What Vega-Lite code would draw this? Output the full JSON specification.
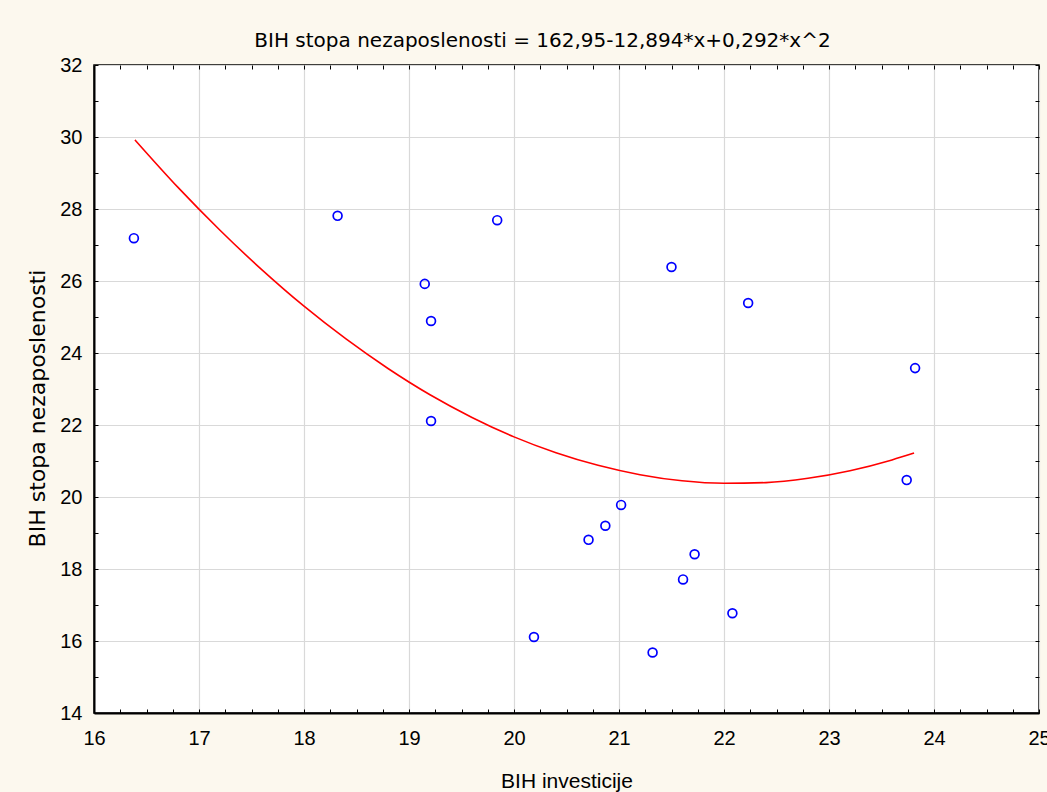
{
  "$schema": "https://vega.github.io/schema/vega-lite/v6.json",
  "width": 945,
  "height": 648,
  "autosize": {"type": "none"},
  "padding": {"left": 94, "top": 65, "right": 8, "bottom": 79},
  "background": "#fcf8ee",
  "config": {
    "view": {"stroke": "#000000", "strokeWidth": 1.5, "fill": "#ffffff"},
    "font": "Liberation Sans",
    "axis": {
      "labelFont": "Liberation Sans",
      "titleFont": "Liberation Sans",
      "labelColor": "#000000",
      "titleColor": "#000000",
      "labelFontSize": 20,
      "titleFontSize": 21,
      "titleFontWeight": "normal",
      "domainColor": "#000000",
      "domainWidth": 2,
      "tickColor": "#000000",
      "tickWidth": 1,
      "gridColor": "#d9d9d9",
      "gridWidth": 1.2
    }
  },
  "title": {
    "text": "BIH stopa nezaposlenosti = 162,95-12,894*x+0,292*x^2",
    "font": "DejaVu Sans",
    "fontSize": 20,
    "fontWeight": "normal",
    "color": "#000000",
    "anchor": "middle",
    "baseline": "bottom",
    "offset": 13,
    "dx": -24,
    "dy": 29
  },
  "datasets": {
    "pts": [
      {"inv": 16.38, "unemp": 27.19},
      {"inv": 18.32, "unemp": 27.81},
      {"inv": 19.84, "unemp": 27.69},
      {"inv": 19.15, "unemp": 25.92},
      {"inv": 19.21, "unemp": 24.89},
      {"inv": 19.21, "unemp": 22.11},
      {"inv": 21.50, "unemp": 26.39},
      {"inv": 22.23, "unemp": 25.39},
      {"inv": 23.82, "unemp": 23.58},
      {"inv": 23.74, "unemp": 20.47},
      {"inv": 21.02, "unemp": 19.78},
      {"inv": 20.87, "unemp": 19.20},
      {"inv": 20.71, "unemp": 18.81},
      {"inv": 21.72, "unemp": 18.41},
      {"inv": 21.61, "unemp": 17.71},
      {"inv": 22.08, "unemp": 16.77},
      {"inv": 21.32, "unemp": 15.68},
      {"inv": 20.19, "unemp": 16.11}
    ],
    "fit": [
      {"inv": 16.39, "unemp": 29.92},
      {"inv": 16.8, "unemp": 28.60},
      {"inv": 17.2, "unemp": 27.41},
      {"inv": 17.6, "unemp": 26.31},
      {"inv": 18.0, "unemp": 25.30},
      {"inv": 18.4, "unemp": 24.39},
      {"inv": 18.8, "unemp": 23.57},
      {"inv": 19.2, "unemp": 22.84},
      {"inv": 19.6, "unemp": 22.21},
      {"inv": 20.0, "unemp": 21.67},
      {"inv": 20.4, "unemp": 21.23},
      {"inv": 20.8, "unemp": 20.88},
      {"inv": 21.2, "unemp": 20.62},
      {"inv": 21.6, "unemp": 20.45},
      {"inv": 22.0, "unemp": 20.38},
      {"inv": 22.4, "unemp": 20.40},
      {"inv": 22.8, "unemp": 20.52},
      {"inv": 23.2, "unemp": 20.73},
      {"inv": 23.6, "unemp": 21.03},
      {"inv": 23.81, "unemp": 21.22}
    ]
  },
  "resolve": {"axis": {"x": "independent", "y": "independent"}},
  "layer": [
    {
      "data": {"name": "pts"},
      "mark": {"type": "point", "shape": "circle", "filled": false, "stroke": "#0000ff", "strokeWidth": 1.7, "size": 78, "opacity": 1},
      "encoding": {
        "x": {
          "field": "inv", "type": "quantitative",
          "scale": {"domain": [16, 25], "nice": false, "zero": false},
          "axis": {
            "orient": "bottom",
            "title": "BIH investicije",
            "titlePadding": 22,
            "values": [16,16.25,16.5,16.75,17,17.25,17.5,17.75,18,18.25,18.5,18.75,19,19.25,19.5,19.75,20,20.25,20.5,20.75,21,21.25,21.5,21.75,22,22.25,22.5,22.75,23,23.25,23.5,23.75,24,24.25,24.5,24.75,25],
            "labelExpr": "datum.value % 1 == 0 ? format(datum.value, 'd') : ''",
            "labelFlush": false,
            "labelOverlap": false,
            "labelPadding": 19,
            "tickSize": -4,
            "grid": true,
            "gridOpacity": {"condition": {"test": "datum.value % 1 != 0", "value": 0}, "value": 1}
          }
        },
        "y": {
          "field": "unemp", "type": "quantitative",
          "scale": {"domain": [14, 32], "nice": false, "zero": false},
          "axis": {
            "orient": "left",
            "title": "BIH stopa nezaposlenosti",
            "titleFont": "DejaVu Sans",
            "titleFontSize": 22,
            "titlePadding": 10,
            "titleY": 343,
            "values": [14,15,16,17,18,19,20,21,22,23,24,25,26,27,28,29,30,31,32],
            "labelExpr": "datum.value % 2 == 0 ? format(datum.value, 'd') : ''",
            "labelFlush": false,
            "labelOverlap": false,
            "labelPadding": 16,
            "tickSize": -4,
            "grid": true,
            "gridOpacity": {"condition": {"test": "datum.value % 2 != 0", "value": 0}, "value": 1}
          }
        }
      }
    },
    {
      "data": {"name": "fit"},
      "mark": {"type": "line", "color": "#ff0000", "strokeWidth": 1.6, "interpolate": "monotone"},
      "encoding": {
        "x": {
          "field": "inv", "type": "quantitative",
          "scale": {"domain": [16, 25], "nice": false, "zero": false},
          "axis": {
            "orient": "top",
            "title": null,
            "labels": false,
            "domain": false,
            "grid": false,
            "values": [16,16.25,16.5,16.75,17,17.25,17.5,17.75,18,18.25,18.5,18.75,19,19.25,19.5,19.75,20,20.25,20.5,20.75,21,21.25,21.5,21.75,22,22.25,22.5,22.75,23,23.25,23.5,23.75,24,24.25,24.5,24.75,25],
            "tickSize": -4
          }
        },
        "y": {
          "field": "unemp", "type": "quantitative",
          "scale": {"domain": [14, 32], "nice": false, "zero": false},
          "axis": {
            "orient": "right",
            "title": null,
            "labels": false,
            "domain": false,
            "grid": false,
            "values": [14,15,16,17,18,19,20,21,22,23,24,25,26,27,28,29,30,31,32],
            "tickSize": -4
          }
        }
      }
    }
  ]
}
